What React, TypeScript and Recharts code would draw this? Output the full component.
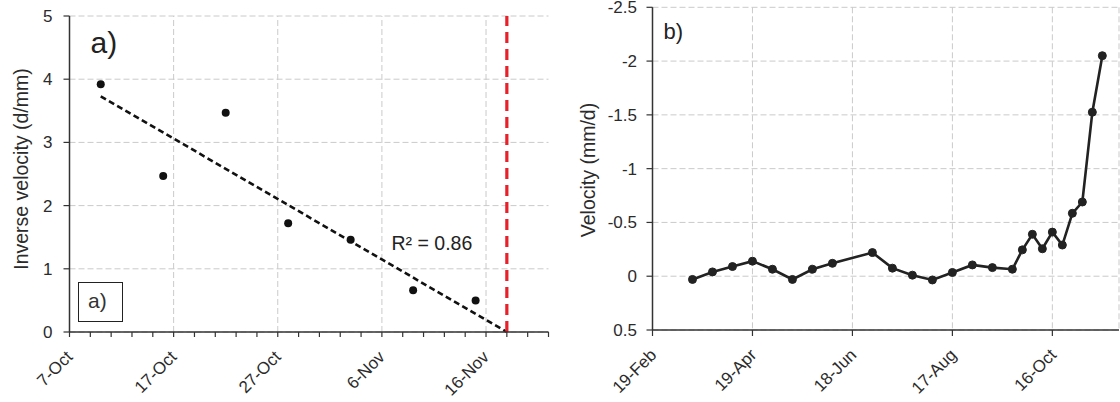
import React from 'react';
import {
  ComposedChart,
  LineChart,
  Line,
  Scatter,
  XAxis,
  YAxis,
  CartesianGrid,
  ReferenceLine,
} from 'recharts';

// ---------- Panel a) : inverse velocity ----------
const invDays = [3, 9, 15, 21, 27, 33, 39]; // days after 7-Oct
const invVel = [3.92, 2.47, 3.47, 1.72, 1.46, 0.66, 0.5];
const trendDays = [3, 42];
const trendVals = [3.73, 0];
const failureDay = 42;
const leftTickDays = [0, 10, 20, 30, 40];
const leftTickLabels = ['7-Oct', '17-Oct', '27-Oct', '6-Nov', '16-Nov'];
const leftMinorDays = [0, 2, 4, 6, 8, 10, 12, 14, 16, 18, 20, 22, 24, 26, 28, 30, 32, 34, 36, 38, 40, 42, 44, 46];
const leftYTicks = [0, 1, 2, 3, 4, 5];
const rSquaredText = 'R² = 0.86';

// ---------- Panel b) : velocity ----------
const velDays = [24, 36, 48, 60, 72, 84, 96, 108, 132, 144, 156, 168, 180, 192, 204, 216, 222, 228, 234, 240, 246, 252, 258, 264, 270]; // days after 19-Feb
const velVals = [0.03, -0.04, -0.09, -0.14, -0.065, 0.03, -0.065, -0.12, -0.22, -0.075, -0.01, 0.035, -0.035, -0.105, -0.08, -0.065, -0.245, -0.39, -0.255, -0.41, -0.29, -0.585, -0.69, -1.525, -2.05];
const rightTickDays = [0, 60, 120, 180, 240];
const rightTickLabels = ['19-Feb', '19-Apr', '18-Jun', '17-Aug', '16-Oct'];
const rightYTicks = [-2.5, -2, -1.5, -1, -0.5, 0, 0.5];

const FONT = '"Liberation Sans", Arial, Helvetica, sans-serif';
const TEXT = '#2b2b2b';
const AXIS = '#333';
const GRID = '#cacaca';
const GRID_DASH = '6 3';

const invData = invDays.map((d, i) => ({ day: d, v: invVel[i] }));
const velData = velDays.map((d, i) => ({ day: d, v: velVals[i] }));

function makeTick(days: number[], labels: string[], dx: number, dy: number) {
  return (props: any) => {
    const { x, y, payload } = props;
    const idx = days.indexOf(payload.value);
    if (idx < 0) return <g />;
    return (
      <g transform={`translate(${x + dx},${y + dy})`}>
        <text x={0} y={0} textAnchor="end" transform="rotate(-45)" fontSize={17} fill={TEXT} fontFamily={FONT}>
          {labels[idx]}
        </text>
      </g>
    );
  };
}

const LeftTick = makeTick(leftTickDays, leftTickLabels, 4, 19);
const RightTick = makeTick(rightTickDays, rightTickLabels, 5, 18);

const Dot = (props: any) => <circle cx={props.cx} cy={props.cy} r={4} fill="#111" />;

export default function App() {
  return (
    <div style={{ position: 'absolute', left: 0, top: 0, width: 1120, height: 402, background: '#fff', fontFamily: FONT }}>
      {/* Panel a */}
      <div style={{ position: 'absolute', left: 0, top: 0 }}>
        <ComposedChart width={560} height={402} margin={{ top: 16, right: 11.5, bottom: 0, left: 0 }}>
          <CartesianGrid vertical={false} stroke={GRID} strokeDasharray={GRID_DASH} />
          <XAxis
            type="number"
            dataKey="day"
            domain={[0, 46]}
            ticks={leftMinorDays}
            interval={0}
            height={70}
            tickSize={5}
            tick={LeftTick}
            axisLine={{ stroke: AXIS, strokeWidth: 1.5 }}
            tickLine={{ stroke: AXIS, strokeWidth: 1.2 }}
            allowDataOverflow
          />
          <YAxis
            type="number"
            dataKey="v"
            domain={[0, 5]}
            ticks={leftYTicks}
            interval={0}
            width={69.5}
            tickSize={6}
            tickMargin={11}
            tick={{ fontSize: 17, fill: TEXT, fontFamily: FONT }}
            axisLine={{ stroke: AXIS, strokeWidth: 1.5 }}
            tickLine={{ stroke: AXIS, strokeWidth: 1.2 }}
          />
          {leftTickDays
            .filter((d) => d > 0)
            .map((d) => (
              <ReferenceLine key={d} x={d} stroke={GRID} strokeDasharray={GRID_DASH} />
            ))}
          <ReferenceLine
            segment={[
              { x: trendDays[0], y: trendVals[0] },
              { x: trendDays[1], y: trendVals[1] },
            ]}
            stroke="#111"
            strokeWidth={2.6}
            strokeDasharray="6 3.5"
          />
          <ReferenceLine x={failureDay} stroke="#e8202a" strokeWidth={3.2} strokeDasharray="11 6" />
          <Scatter data={invData} dataKey="v" shape={Dot} isAnimationActive={false} />
        </ComposedChart>
      </div>

      {/* Panel b */}
      <div style={{ position: 'absolute', left: 560, top: 0 }}>
        <LineChart width={560} height={402} data={velData} margin={{ top: 7.3, right: 1, bottom: 0, left: 0 }}>
          <CartesianGrid stroke={GRID} strokeDasharray={GRID_DASH} />
          <XAxis
            type="number"
            dataKey="day"
            domain={[0, 280]}
            ticks={rightTickDays}
            interval={0}
            height={72}
            tickSize={6}
            tick={RightTick}
            axisLine={{ stroke: AXIS, strokeWidth: 1.5 }}
            tickLine={{ stroke: AXIS, strokeWidth: 1.2 }}
          />
          <YAxis
            type="number"
            domain={[-2.5, 0.5]}
            reversed
            ticks={rightYTicks}
            interval={0}
            width={92.5}
            tickSize={6}
            tickMargin={9.5}
            tick={{ fontSize: 17, fill: TEXT, fontFamily: FONT }}
            axisLine={{ stroke: AXIS, strokeWidth: 1.5 }}
            tickLine={{ stroke: AXIS, strokeWidth: 1.2 }}
          />
          <Line
            type="linear"
            dataKey="v"
            stroke="#222"
            strokeWidth={2.6}
            dot={{ r: 4, fill: '#222', stroke: '#222', strokeWidth: 1 }}
            isAnimationActive={false}
          />
        </LineChart>
      </div>

      {/* Overlay texts */}
      <div style={{ position: 'absolute', left: 90.5, top: 28, fontSize: 30, lineHeight: 1, color: '#222' }}>a)</div>
      <div
        style={{
          position: 'absolute',
          left: 77.5,
          top: 282,
          width: 45.5,
          height: 40,
          border: '1.5px solid #222',
          boxSizing: 'border-box',
          background: '#fff',
        }}
      />
      <div style={{ position: 'absolute', left: 88, top: 290, fontSize: 21, lineHeight: 1, color: '#333' }}>a)</div>
      <div style={{ position: 'absolute', left: 391.5, top: 234, fontSize: 19.5, lineHeight: 1, color: '#222', whiteSpace: 'nowrap' }}>
        {rSquaredText}
      </div>
      <div style={{ position: 'absolute', left: 663.5, top: 21, fontSize: 22, lineHeight: 1, color: '#222' }}>b)</div>
      <div
        style={{
          position: 'absolute',
          left: 21.5,
          top: 168.5,
          transform: 'translate(-50%, -50%) rotate(-90deg)',
          whiteSpace: 'nowrap',
          fontSize: 19.5,
          lineHeight: 1,
          color: TEXT,
        }}
      >
        Inverse velocity (d/mm)
      </div>
      <div
        style={{
          position: 'absolute',
          left: 589,
          top: 170,
          transform: 'translate(-50%, -50%) rotate(-90deg)',
          whiteSpace: 'nowrap',
          fontSize: 19.5,
          lineHeight: 1,
          color: TEXT,
        }}
      >
        Velocity (mm/d)
      </div>
    </div>
  );
}
